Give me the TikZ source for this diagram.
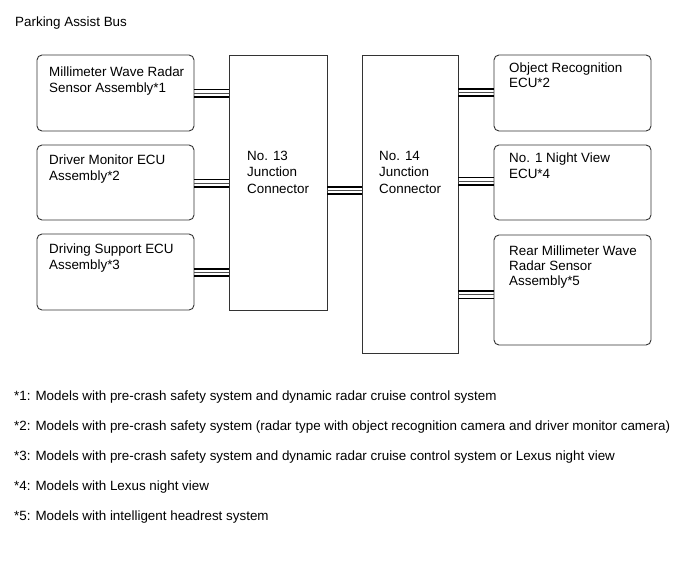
\documentclass[tikz,border=0pt]{standalone}
\usepackage{fontspec}
\setmainfont{Liberation Sans}
\begin{document}
\begin{tikzpicture}[x=1pt,y=-1pt,
  box/.style={draw=black!80,line width=0.9pt,rounded corners=5pt,anchor=north west,inner sep=0pt,outer sep=0pt},
  jbox/.style={draw=black!80,line width=0.9pt,anchor=north west,inner sep=0pt,outer sep=0pt},
  lbl/.style={anchor=base west,inner sep=0pt,align=left,font=\fontsize{13.4}{15.2}\selectfont},
  note/.style={anchor=base west,inner sep=0pt,font=\fontsize{13.4}{15.5}\selectfont},
  wthick/.style={line width=1.7pt,black},
  wthin/.style={line width=1pt,black!70}]
\useasboundingbox (0,0) rectangle (690,562);
\fill[white] (0,0) rectangle (690,562);
\newcommand\busline[3]{%
  \draw[wthick] (#1.east |- 0,#3-3.6) -- (#2.west |- 0,#3-3.6);
  \draw[wthin]  (#1.east |- 0,#3) -- (#2.west |- 0,#3);
  \draw[wthick] (#1.east |- 0,#3+3.8) -- (#2.west |- 0,#3+3.8);}
\node[note] (title) at (15,26) {Parking Assist Bus};
% left boxes
\node[box,minimum width=157pt,minimum height=76pt] (b1) at (37,55) {};
\node[box,minimum width=157pt,minimum height=75pt] (b2) at (37,145) {};
\node[box,minimum width=157pt,minimum height=76pt] (b3) at (37,234) {};
\node[lbl] (t1) at (49,92) {Millimeter Wave Radar\\Sensor Assembly*1};
\node[lbl] (t2) at (49,180) {Driver Monitor ECU\\Assembly*2};
\node[lbl] (t3) at (49,269) {Driving Support ECU\\Assembly*3};
% junction connectors
\node[jbox,minimum width=98pt,minimum height=255pt] (j13) at (229,55) {};
\node[jbox,minimum width=96pt,minimum height=298pt] (j14) at (362,55) {};
\node[lbl,font=\fontsize{13.4}{16.2}\selectfont] (tj13) at (247,193) {No. 13\\Junction\\Connector};
\node[lbl,font=\fontsize{13.4}{16.2}\selectfont] (tj14) at (379,193) {No. 14\\Junction\\Connector};
% right boxes
\node[box,minimum width=157pt,minimum height=76pt] (r1) at (494,55) {};
\node[box,minimum width=157pt,minimum height=75pt] (r2) at (494,145) {};
\node[box,minimum width=157pt,minimum height=110pt] (r3) at (494,235) {};
\node[lbl] (tr1) at (509,87.5) {Object Recognition\\ECU*2};
\node[lbl] (tr2) at (509,178) {No. 1 Night View\\ECU*4};
\node[lbl,font=\fontsize{13.4}{14.6}\selectfont] (tr3) at (509,285) {Rear Millimeter Wave\\Radar Sensor\\Assembly*5};
% buses
\busline{b1}{j13}{93}
\busline{b2}{j13}{183}
\busline{b3}{j13}{272.5}
\busline{j13}{j14}{190.5}
\busline{j14}{r1}{92.5}
\busline{j14}{r2}{181}
\busline{j14}{r3}{294.8}
% notes
\node[note] (n1) at (14,400.7) {*1: Models with pre-crash safety system and dynamic radar cruise control system};
\node[note] (n2) at (14,430.7) {*2: Models with pre-crash safety system (radar type with object recognition camera and driver monitor camera)};
\node[note] (n3) at (14,460.7) {*3: Models with pre-crash safety system and dynamic radar cruise control system or Lexus night view};
\node[note] (n4) at (14,490.7) {*4: Models with Lexus night view};
\node[note] (n5) at (14,520.7) {*5: Models with intelligent headrest system};
\end{tikzpicture}
\end{document}
